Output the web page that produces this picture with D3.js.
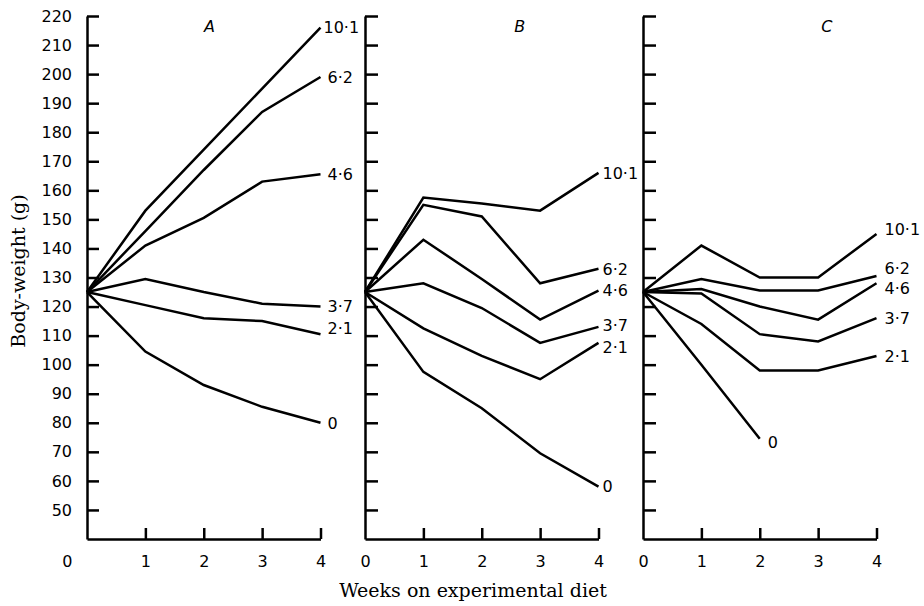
<!DOCTYPE html>
<html>
<head>
<meta charset="utf-8">
<script src="https://cdn.jsdelivr.net/npm/d3@7"></script>
<style>
  body { margin: 0; background: #fff; }
  svg { display: block; }
  .tick text { font-family: "DejaVu Sans"; font-size: 16px; fill: #000; }
  .axis path, .axis line { stroke: #000; stroke-width: 2.5; }
</style>
</head>
<body>
<svg width="924" height="606"></svg>
<script>
// body-weight (g) by week, one row per diet group
const weeks = [0, 1, 2, 3, 4];
const groups = ["10·1", "6·2", "4·6", "3·7", "2·1", "0"];
const panels = ["A", "B", "C"];
const yTicks = [50, 60, 70, 80, 90, 100, 110, 120, 130, 140, 150, 160, 170, 180, 190, 200, 210, 220];

const weightA = [
  [125, 153, 174, 195, 216],
  [125, 146, 167, 187, 199],
  [125, 141, 150.5, 163, 165.5],
  [125, 129.5, 125, 121, 120],
  [125, 120.5, 116, 115, 110.5],
  [125, 104.5, 93, 85.5, 80]
];
const weightB = [
  [125, 157.5, 155.5, 153, 166],
  [125, 155, 151, 128, 133],
  [125, 143, 129.5, 115.5, 125.5],
  [125, 128, 119.5, 107.5, 113],
  [125, 112.5, 103, 95, 107.5],
  [125, 97.5, 85, 69.5, 58]
];
const weightC = [
  [125, 141, 130, 130, 145],
  [125, 129.5, 125.5, 125.5, 130.5],
  [125, 126, 120, 115.5, 128],
  [125, 124.5, 110.5, 108, 116],
  [125, 114, 98, 98, 103],
  [125, 100, 74.5]
];
const allWeights = [weightA, weightB, weightC];

const svg = d3.select("svg");
const topY = 16, bottomY = 539;
const panelLeft = 87, panelStep = 278, panelWidth = 233.5;

const yScale = d3.scaleLinear().domain([40, 220]).range([bottomY, topY]);

// where the panel letters sit (in weeks) and label tweaks
const titleAt = [2.1, 2.65, 3.15];
const labelDx = [7, 4, 8];
const nudge = { "A|2·1": -6, "B|3·7": -2, "B|2·1": 4, "C|10·1": -5, "C|6·2": -8, "C|4·6": 5, "C|0": 3 };

let line = d3.line().x(d => d[0]).y(d => d[1]);

panels.forEach((p, i) => {
  const x0 = panelLeft + i * panelStep;
  const xScale = d3.scaleLinear().domain([0, 4]).range([x0, x0 + panelWidth]);
  const g = svg.append("g");

  // y axis, ticks pointing inwards
  g.append("g")
    .attr("class", "axis")
    .attr("transform", "translate(" + x0 + ",0)")
    .call(d3.axisRight(yScale).tickValues(yTicks).tickSize(i == 0 ? 12 : 13).tickSizeOuter(0).tickFormat(""));

  if (i == 0) {
    g.append("g")
      .attr("transform", "translate(" + x0 + ",0)")
      .call(d3.axisLeft(yScale).tickValues(yTicks).tickSize(0).tickPadding(15))
      .call(s => s.select(".domain").remove());
  }

  // x axis, ticks pointing up
  g.append("g")
    .attr("class", "axis")
    .attr("transform", "translate(0," + bottomY + ")")
    .call(d3.axisTop(xScale).tickValues([1, 2, 3, 4]).tickSize(11).tickSizeOuter(0).tickFormat(""));

  const xl = g.append("g")
    .attr("transform", "translate(0," + bottomY + ")")
    .call(d3.axisBottom(xScale).tickValues(weeks).tickSize(0).tickPadding(17).tickFormat(d3.format("d")));
  xl.select(".domain").remove();
  if (i == 0) {
    xl.selectAll(".tick").filter(d => d == 0).select("text")
      .attr("text-anchor", "end").attr("x", -15);
  }

  // panel letter
  g.append("text")
    .attr("x", xScale(titleAt[i]))
    .attr("y", 32)
    .attr("text-anchor", "middle")
    .style("font-family", "DejaVu Sans")
    .style("font-style", "italic")
    .style("font-size", "16px")
    .text(p);

  allWeights[i].forEach((row, k) => {
    const pts = row.map((v, w) => [xScale(weeks[w]), yScale(v)]);
    g.append("path")
      .attr("d", line(pts))
      .attr("fill", "none")
      .attr("stroke", "#000")
      .attr("stroke-width", 2.5)
      .attr("stroke-linejoin", "miter");

    const last = pts[pts.length - 1];
    g.append("text")
      .attr("x", last[0] + (i == 0 && k == 0 ? 3 : labelDx[i]))
      .attr("y", last[1] + (nudge[p + "|" + groups[k]] || 0))
      .attr("dy", "0.36em")
      .style("font-family", "DejaVu Sans")
      .style("font-size", "16px")
      .text(groups[k]);
  });
});

svg.append("text")
  .attr("x", 473)
  .attr("y", 597)
  .attr("text-anchor", "middle")
  .style("font-family", "DejaVu Serif")
  .style("font-size", "19px")
  .text("Weeks on experimental diet");

svg.append("text")
  .attr("transform", "translate(25,271) rotate(-90)")
  .attr("text-anchor", "middle")
  .style("font-family", "DejaVu Serif")
  .style("font-size", "19px")
  .text("Body-weight (g)");
</script>
</body>
</html>
